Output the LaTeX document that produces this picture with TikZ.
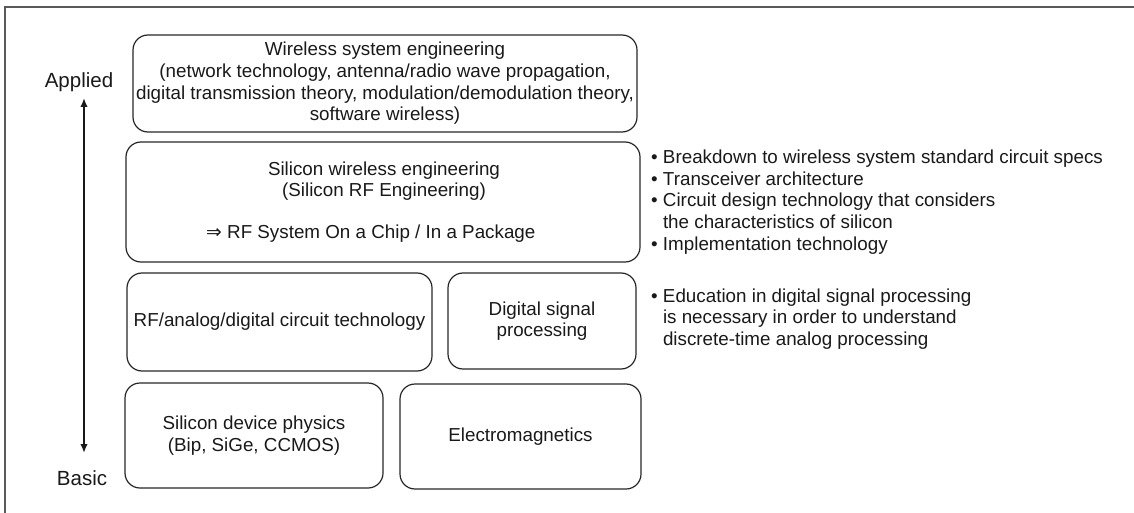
\documentclass[tikz,border=0pt]{standalone}
\usepackage{fontspec}
\setmainfont{Liberation Sans}
\newfontfamily\symfont{DejaVu Sans}
\usetikzlibrary{arrows.meta}
\begin{document}
\begin{tikzpicture}[x=1pt,y=-1pt,
  every node/.style={font=\fontsize{18.8}{21.6}\selectfont, text=black!90},
  box/.style={draw=black!85, line width=1.2pt, rounded corners=15pt, align=center, inner sep=0pt},
  plain/.style={inner sep=0pt, align=center},
  axislabel/.style={inner sep=0pt, font=\fontsize{20.5}{24}\selectfont},
  list/.style={inner sep=0pt, align=left, anchor=west},
  frameline/.style={draw=black!65, line width=1.5pt}]
\useasboundingbox (0,0) rectangle (1134,513);
% outer frame (top and left edges visible)
\coordinate (ftl) at (5,7);
\coordinate (ftr) at (1134,7);
\coordinate (fbl) at (5,513);
\draw[frameline] (ftr) -- (ftl) -- (fbl);
% boxes
\node[box, minimum width=504pt, minimum height=97pt] (b1) at (385,83.5)
  {Wireless system engineering\\(network technology, antenna/radio wave propagation,\\digital transmission theory, modulation/demodulation theory,\\software wireless)};
\node[box, minimum width=514pt, minimum height=120pt] (b2) at (383,202) {};
\node[plain] (b2t) at (384,181) {Silicon wireless engineering\\(Silicon RF Engineering)};
\node[plain, anchor=west] (b2s) at (206,234) {{\symfont ⇒} RF System On a Chip / In a Package};
\node[box, minimum width=305pt, minimum height=98pt] (b3) at (279.5,322) {RF/analog/digital circuit technology};
\node[box, minimum width=188pt, minimum height=96pt] (b4) at (542,321) {Digital signal\\processing};
\node[box, minimum width=258pt, minimum height=105pt] (b5) at (254,435.5) {Silicon device physics\\(Bip, SiGe, CCMOS)};
\node[box, minimum width=241pt, minimum height=105pt] (b6) at (520.5,436.5) {Electromagnetics};
% axis
\node[axislabel] (app) at (79,82) {Applied};
\node[axislabel] (bas) at (82,478) {Basic};
\coordinate (atop) at (84,98);
\coordinate (abot) at (84,453);
\draw[line width=2.5pt, black!90, {Latex[length=9pt,width=7.5pt]}-{Latex[length=9pt,width=7.5pt]}] (atop) -- (abot);
% right-side notes
\node[list] (n1) at (651,202) {\textbullet\ Breakdown to wireless system standard circuit specs\\
\textbullet\ Transceiver architecture\\
\textbullet\ Circuit design technology that considers\\
\phantom{\textbullet\ }the characteristics of silicon\\
\textbullet\ Implementation technology};
\node[list] (n2) at (651,319) {\textbullet\ Education in digital signal processing\\
\phantom{\textbullet\ }is necessary in order to understand\\
\phantom{\textbullet\ }discrete-time analog processing};
\end{tikzpicture}
\end{document}
